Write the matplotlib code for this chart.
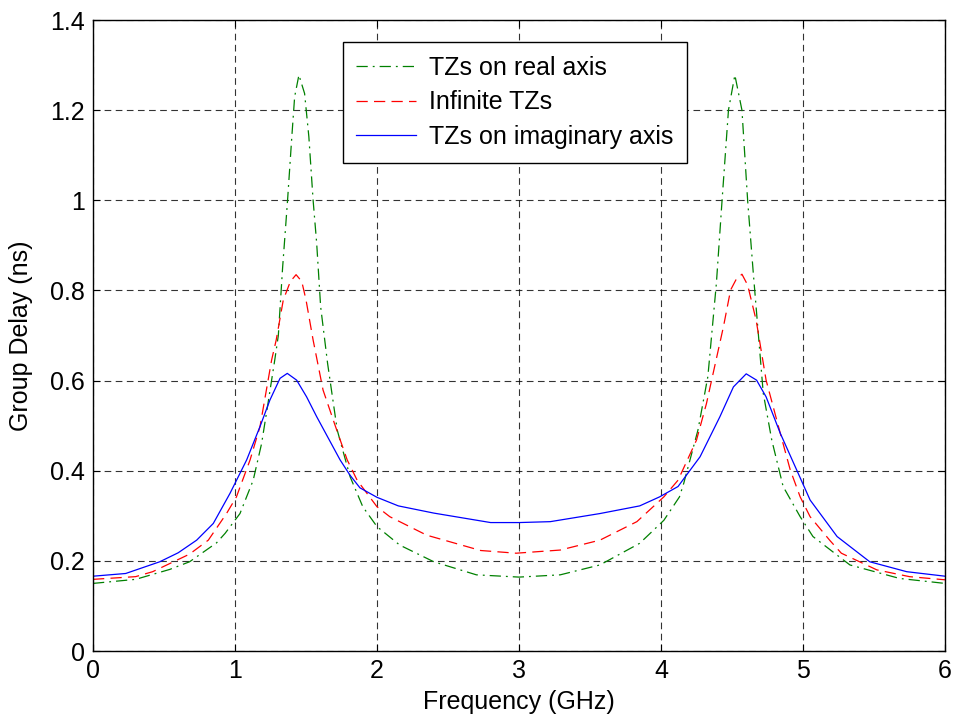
import matplotlib
matplotlib.use("Agg")
import matplotlib.pyplot as plt

plt.rcParams['font.family'] = ['Liberation Sans', 'DejaVu Sans']

# TZs on imaginary axis (blue)
x_imag = [0.0, 0.23, 0.47, 0.60, 0.73, 0.847, 0.965, 1.082, 1.176, 1.246, 1.317, 1.368, 1.434, 1.504,
          1.575, 1.74, 1.81, 1.88, 2.00, 2.15, 2.40, 2.80, 3.00, 3.22, 3.57, 3.85, 3.99, 4.12, 4.275,
          4.415, 4.51, 4.60, 4.673, 4.74, 4.84, 4.955, 5.05, 5.24, 5.47, 5.73, 6.0]
y_imag = [0.166, 0.172, 0.198, 0.218, 0.246, 0.283, 0.350, 0.424, 0.498, 0.557, 0.605, 0.616, 0.601, 0.564,
          0.520, 0.424, 0.390, 0.362, 0.341, 0.322, 0.306, 0.285, 0.285, 0.287, 0.305, 0.322, 0.342, 0.365, 0.431,
          0.520, 0.586, 0.615, 0.601, 0.564, 0.483, 0.402, 0.335, 0.254, 0.198, 0.176, 0.166]

# Infinite TZs (red)
x_inf = [0.0, 0.30, 0.42, 0.68, 0.812, 0.94, 1.01, 1.106, 1.176, 1.258, 1.29, 1.34, 1.39, 1.43, 1.47, 1.50,
         1.55, 1.62, 1.70, 1.79, 1.86, 2.00, 2.09, 2.35, 2.73, 2.98, 3.29, 3.57, 3.83, 4.02, 4.12,
         4.25, 4.32, 4.44, 4.49, 4.53, 4.57, 4.61, 4.67, 4.74, 4.84, 4.91, 4.98, 5.05, 5.19, 5.27, 5.52, 5.75, 6.0]
y_inf = [0.159, 0.165, 0.176, 0.215, 0.246, 0.305, 0.342, 0.424, 0.498, 0.646, 0.690, 0.779, 0.820, 0.835, 0.820, 0.779,
         0.690, 0.579, 0.505, 0.424, 0.379, 0.320, 0.298, 0.257, 0.223, 0.217, 0.224, 0.246, 0.287, 0.342, 0.379,
         0.468, 0.549, 0.720, 0.801, 0.825, 0.836, 0.812, 0.734, 0.601, 0.483, 0.402, 0.342, 0.298, 0.245, 0.217,
         0.180, 0.165, 0.158]

# TZs on real axis (green)
x_real = [0.0, 0.30, 0.54, 0.68, 0.87, 0.93, 1.035, 1.128, 1.187, 1.232, 1.28, 1.305, 1.335, 1.37, 1.40, 1.42,
          1.45, 1.49, 1.52, 1.55, 1.575, 1.603, 1.652, 1.72, 1.81, 1.90, 2.00, 2.16, 2.40, 2.70, 3.00, 3.29,
          3.57, 3.85, 4.02, 4.13, 4.16, 4.26, 4.33, 4.39, 4.43, 4.475, 4.52, 4.57, 4.61, 4.65, 4.72, 4.78,
          4.86, 4.98, 5.07, 5.33, 5.68, 6.0]
y_real = [0.150, 0.159, 0.181, 0.198, 0.240, 0.261, 0.305, 0.379, 0.460, 0.549, 0.646, 0.700, 0.850, 1.000, 1.141, 1.230,
          1.278, 1.237, 1.141, 1.000, 0.905, 0.764, 0.638, 0.490, 0.387, 0.320, 0.276, 0.235, 0.198, 0.169, 0.164, 0.169,
          0.191, 0.239, 0.290, 0.342, 0.372, 0.490, 0.609, 0.816, 1.000, 1.200, 1.278, 1.200, 1.000, 0.838, 0.572, 0.468,
          0.365, 0.298, 0.254, 0.191, 0.161, 0.150]

labels = ['TZs on real axis', 'Infinite TZs', 'TZs on imaginary axis']
xticks = [0, 1, 2, 3, 4, 5, 6]
yticks = [0, 0.2, 0.4, 0.6, 0.8, 1.0, 1.2, 1.4]
ytick_labels = ['0', '0.2', '0.4', '0.6', '0.8', '1', '1.2', '1.4']

fig = plt.figure(figsize=(9.56, 7.18), dpi=100)
ax = fig.add_axes([0.0973, 0.0933, 0.8912, 0.8788])

ax.plot(x_real, y_real, color='#008000', linewidth=0.9, dashes=(9, 4, 1.5, 4), label=labels[0])
ax.plot(x_inf, y_inf, color='#ff0000', linewidth=0.9, dashes=(9, 5), label=labels[1])
ax.plot(x_imag, y_imag, color='#0000ff', linewidth=0.9, label=labels[2])

ax.set_xlim(0, 6)
ax.set_ylim(0, 1.4)
ax.set_xticks(xticks)
ax.set_xticklabels([str(t) for t in xticks])
ax.set_yticks(yticks)
ax.set_yticklabels(ytick_labels)
ax.tick_params(direction='in', length=5, width=0.8, top=True, right=True, labelsize=18, pad=6)
ax.grid(True, color='black', linestyle=(0, (6, 4)), linewidth=0.8, alpha=0.8)
for s in ax.spines.values():
    s.set_linewidth(1.0)
    s.set_color('black')

ax.set_xlabel('Frequency (GHz)', fontsize=18, labelpad=5)
ax.set_ylabel('Group Delay (ns)', fontsize=18, labelpad=12)

leg = ax.legend(loc='upper left', bbox_to_anchor=(0.293, 0.965), fontsize=18, frameon=True,
                fancybox=False, edgecolor='black', framealpha=1, handlelength=2.4,
                handletextpad=0.5, labelspacing=0.42, borderpad=0.55, borderaxespad=0)
leg.get_frame().set_linewidth(1.0)

fig.savefig('out.png', dpi=100)
